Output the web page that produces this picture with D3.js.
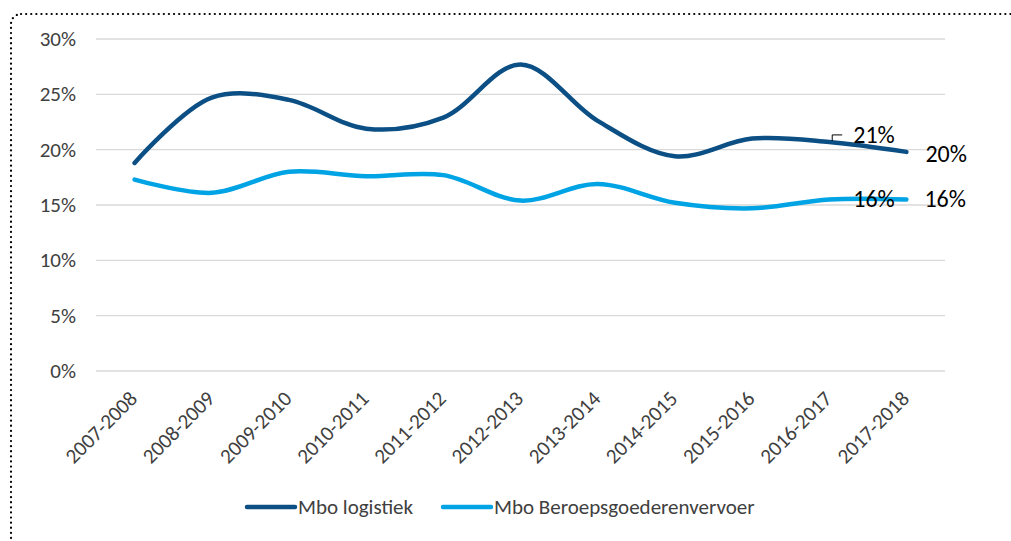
<!DOCTYPE html>
<html>
  <head>
    <meta charset="utf-8">
    <script src="https://d3js.org/d3.v7.min.js"></script>
    <style>
      body { margin: 0; background: #fff; }
      svg { font-family: Carlito, Calibri, Lato, "Liberation Sans", sans-serif; }
    </style>
  </head>
<body>
  <script type="text/javascript">

  // Data
  var years = ["2007-2008","2008-2009","2009-2010","2010-2011","2011-2012","2012-2013",
               "2013-2014","2014-2015","2015-2016","2016-2017","2017-2018"];
  var logistiek = [18.8, 24.7, 24.5, 21.9, 22.9, 27.7, 22.6, 19.4, 21.0, 20.7, 19.8];
  var beroeps   = [17.3, 16.1, 18.0, 17.6, 17.7, 15.4, 16.9, 15.2, 14.7, 15.5, 15.5];
  var yTicks = [0, 5, 10, 15, 20, 25, 30];
  var seriesNames = ["Mbo logistiek", "Mbo Beroepsgoederenvervoer"];
  var colors = ["#0b4f84", "#00a3e4"];

  var W = 1011, H = 541;
  var svg = d3.select("body").append("svg").attr("width", W).attr("height", H);

  // dotted frame
  svg.append("rect")
    .attr("x", 11).attr("y", 14).attr("width", 1040).attr("height", 580)
    .attr("rx", 10)
    .attr("fill", "none").attr("stroke", "#000")
    .attr("stroke-width", 2.2).attr("stroke-dasharray", "0.1 5").attr("stroke-linecap", "round");

  var pLeft = 96, pRight = 945, pTop = 39, pBottom = 371;

  var x = d3.scaleBand().domain(years).range([pLeft, pRight]);
  var y = d3.scaleLinear().domain([0, 30]).range([pBottom, pTop]);
  var cx = function(d, i){ return x(years[i]) + x.bandwidth() / 2; };

  // gridlines
  svg.selectAll(".grid").data(yTicks).enter().append("line")
    .attr("x1", pLeft).attr("x2", pRight)
    .attr("y1", function(d){ return y(d); }).attr("y2", function(d){ return y(d); })
    .attr("stroke", "#d9d9d9").attr("stroke-width", 1.3);

  // y labels
  svg.selectAll(".ylab").data(yTicks).enter().append("text")
    .attr("x", 76).attr("y", function(d){ return y(d) + 7; })
    .attr("text-anchor", "end").attr("font-size", 21).attr("fill", "#404040")
    .text(function(d){ return d + "%"; });

  // x labels
  svg.selectAll(".xlab").data(years).enter().append("text")
    .attr("transform", function(d){ return "translate(" + (x(d) + x.bandwidth()/2 + 4) + ",400) rotate(-45)"; })
    .attr("text-anchor", "end").attr("font-size", 21).attr("fill", "#404040")
    .text(function(d){ return d; });

  // lines
  var line = d3.line().x(cx).y(function(d){ return y(d); }).curve(d3.curveCatmullRom.alpha(0.5));
  [logistiek, beroeps].forEach(function(s, k){
    svg.append("path").datum(s).attr("d", line)
      .attr("fill", "none").attr("stroke", colors[k]).attr("stroke-width", 4.5)
      .attr("stroke-linecap", "round");
  });

  // data labels
  var n = years.length - 1;
  var lx = cx(null, n);
  svg.append("text").attr("x", lx + 19).attr("y", y(logistiek[n]) + 10)
    .attr("font-size", 24).attr("fill", "#000").text(Math.round(logistiek[n]) + "%");
  svg.append("text").attr("x", lx + 18).attr("y", y(beroeps[n]) + 8)
    .attr("font-size", 24).attr("fill", "#000").text(Math.round(beroeps[n]) + "%");
  var px = cx(null, n - 1);
  svg.append("text").attr("x", px + 24).attr("y", y(logistiek[n-1]) + 1)
    .attr("font-size", 24).attr("fill", "#000").text(Math.round(logistiek[n-1]) + "%");
  svg.append("path")
    .attr("d", "M" + (px + 13) + "," + (y(logistiek[n-1]) - 7) + "h-10v6")
    .attr("fill", "none").attr("stroke", "#000").attr("stroke-width", 1);
  svg.append("text").attr("x", px + 24).attr("y", y(beroeps[n-1]) + 8)
    .attr("font-size", 24).attr("fill", "#000").text(Math.round(beroeps[n-1]) + "%");

  // legend
  var lg = [{x: 247, name: seriesNames[0], c: colors[0]}, {x: 443, name: seriesNames[1], c: colors[1]}];
  lg.forEach(function(d){
    svg.append("line").attr("x1", d.x).attr("x2", d.x + 48).attr("y1", 507).attr("y2", 507)
      .attr("stroke", d.c).attr("stroke-width", 4.5).attr("stroke-linecap", "round");
    svg.append("text").attr("x", d.x + 51).attr("y", 514).attr("font-size", 21)
      .attr("fill", "#404040").text(d.name);
  });

  </script>
</body>
</html>
